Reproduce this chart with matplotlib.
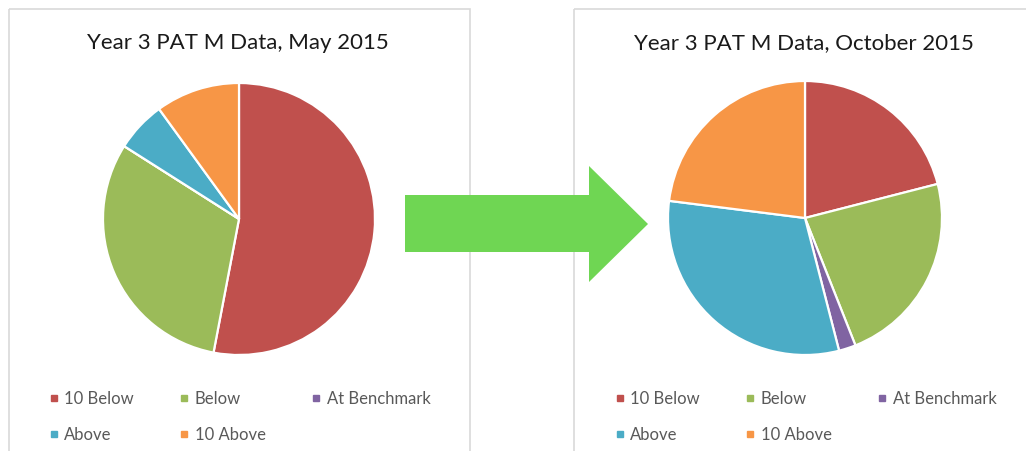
import matplotlib.pyplot as plt
from matplotlib.lines import Line2D
from matplotlib.patches import Polygon, Rectangle

plt.rcParams['font.family'] = ['Lato', 'DejaVu Sans']

categories = ['10 Below', 'Below', 'At Benchmark', 'Above', '10 Above']
colors = ['#C0504D', '#9BBB59', '#8064A2', '#4BACC6', '#F79646']
may_values = [53, 31, 0, 6, 10]        # percent
october_values = [21, 23, 2, 31, 23]   # percent
titles = ['Year 3 PAT M Data, May 2015', 'Year 3 PAT M Data, October 2015']

W, H = 1026, 452
fig = plt.figure(figsize=(W / 100, H / 100), dpi=100)

# background layer in pixel coords for boxes and arrow
bg = fig.add_axes([0, 0, 1, 1])
bg.set_xlim(0, W)
bg.set_ylim(H, 0)
bg.axis('off')
bg.add_patch(Rectangle((9, 10), 461, 460, fill=False, ec='#D9D9D9', lw=1.2))
bg.add_patch(Rectangle((574, 10), 470, 460, fill=False, ec='#D9D9D9', lw=1.2))
bg.add_patch(Polygon([(405, 196), (589, 196), (589, 167), (648, 225),
                      (589, 283), (589, 253), (405, 253)],
                     closed=True, fc='#6FD653', ec='none'))


def draw_pie(cx, cy, r, values, title, title_x):
    ax = fig.add_axes([(cx - r) / W, (H - cy - r) / H, 2 * r / W, 2 * r / H])
    ax.pie(values, colors=colors, startangle=90, counterclock=False,
           wedgeprops=dict(edgecolor='white', linewidth=1.6))
    ax.set_xlim(-1, 1)
    ax.set_ylim(-1, 1)
    ax.set_aspect('equal')
    fig.text(title_x / W, 1 - 43 / H, title, ha='center', va='center',
             fontsize=16, color='#1A1A1A')
    order = [0, 3, 1, 4, 2]
    handles = [Line2D([], [], ls='none', marker='s', markersize=5,
                      color=colors[i]) for i in order]
    labels = [categories[i] for i in order]
    fig.legend(handles, labels, loc='upper left', ncol=3,
               bbox_to_anchor=((cx - 198) / W, 1 - 383 / H),
               frameon=False, fontsize=12, labelcolor='#595959',
               handlelength=0.5, handletextpad=0.4, columnspacing=2.76,
               labelspacing=1.2, borderpad=0)


draw_pie(239, 220, 136, may_values, titles[0], 238)
draw_pie(805, 219, 137, october_values, titles[1], 804)

fig.savefig('out.png', dpi=100)
